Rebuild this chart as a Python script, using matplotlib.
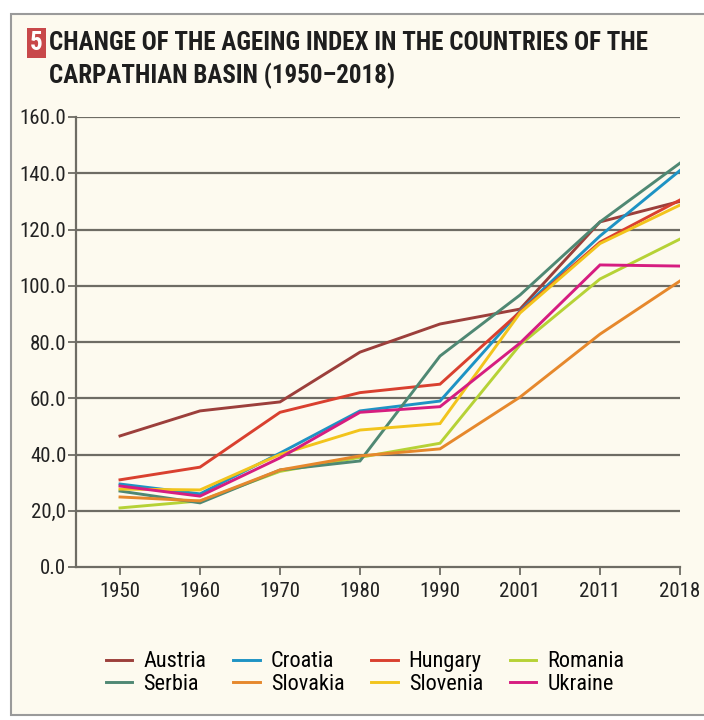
import matplotlib.pyplot as plt
from matplotlib import font_manager
from matplotlib.patches import Rectangle

years = ["1950", "1960", "1970", "1980", "1990", "2001", "2011", "2018"]

austria = [46.6, 55.5, 58.7, 76.4, 86.4, 91.7, 122.7, 130.0]
croatia = [29.5, 26.0, 40.5, 55.5, 59.0, 91.0, 117.7, 141.0]
hungary = [31.0, 35.5, 55.0, 62.0, 65.0, 90.7, 115.5, 130.5]
romania = [21.0, 23.5, 34.0, 39.0, 44.0, 79.0, 102.4, 116.6]
serbia = [27.0, 22.8, 34.5, 37.7, 75.0, 96.7, 122.7, 143.6]
slovakia = [24.9, 23.5, 34.5, 39.5, 42.0, 60.4, 82.8, 101.7]
slovenia = [27.7, 27.4, 40.0, 48.7, 51.0, 90.3, 115.0, 128.7]
ukraine = [28.8, 25.2, 38.8, 55.0, 57.0, 79.6, 107.4, 107.0]

yticks = [0, 20, 40, 60, 80, 100, 120, 140, 160]
ytick_labels = ["0.0", "20,0", "40.0", "60.0", "80.0", "100.0", "120.0", "140.0", "160.0"]

series = [
    ("Austria", austria, "#9c3f3b"),
    ("Croatia", croatia, "#1e93c4"),
    ("Hungary", hungary, "#d9402f"),
    ("Romania", romania, "#b6d236"),
    ("Serbia", serbia, "#4f8873"),
    ("Slovakia", slovakia, "#e6882c"),
    ("Slovenia", slovenia, "#f2c41c"),
    ("Ukraine", ukraine, "#d61d80"),
]

# prefer a condensed face if one is around, else plain Liberation Sans a bit smaller
installed = {f.name for f in font_manager.fontManager.ttflist}
narrow = [n for n in ["Liberation Sans Narrow", "Roboto Condensed", "Open Sans Condensed",
                      "DejaVu Sans Condensed"] if n in installed]
if narrow:
    plt.rcParams["font.family"] = [narrow[0], "DejaVu Sans"]
    title_fs, tick_fs, leg_fs = 18, 15, 16
else:
    plt.rcParams["font.family"] = ["Liberation Sans", "DejaVu Sans"]
    title_fs, tick_fs, leg_fs = 14.5, 12.5, 13.5

bg = "#fdfaef"
grid_col = "#6e6c64"

fig = plt.figure(figsize=(7.04, 7.20), dpi=100, facecolor="white")
fig.patches.append(Rectangle((11 / 704, 1 - 715 / 720), 1.0, (715 - 14) / 720,
                             transform=fig.transFigure, facecolor=bg,
                             edgecolor="#9a9a9a", linewidth=1.5, zorder=-10))

ax = fig.add_axes([76 / 704, 1 - 567 / 720, (680 - 76) / 704, (567 - 117) / 720])
ax.set_facecolor(bg)

x = list(range(len(years)))
lines = {}
for name, vals, col in series:
    lines[name], = ax.plot(x, vals, color=col, linewidth=2.1, label=name,
                           solid_joinstyle="miter", zorder=3)

ax.set_xlim(-0.55, 7)
ax.set_ylim(0, 160)
ax.set_yticks(yticks)
ax.set_yticklabels(ytick_labels)
ax.set_xticks(x)
ax.set_xticklabels(years)
ax.tick_params(axis="both", labelsize=tick_fs, colors=grid_col, labelcolor="#222222",
               length=6, width=1.3)
ax.tick_params(axis="x", pad=5)
ax.tick_params(axis="y", pad=1)

for v in yticks[1:]:
    ax.axhline(v, color=grid_col, linewidth=1.6, zorder=1)
for s in ["top", "right"]:
    ax.spines[s].set_visible(False)
for s in ["left", "bottom"]:
    ax.spines[s].set_color(grid_col)
    ax.spines[s].set_linewidth(1.6)

# title with the numbered badge
fig.text(30 / 704, 1 - 43 / 720, "5", color="white", fontsize=title_fs, fontweight="bold",
         va="center", ha="left",
         bbox=dict(boxstyle="square,pad=0.12", facecolor="#c8484a", edgecolor="none"))
fig.text(49 / 704, 1 - 43 / 720, "CHANGE OF THE AGEING INDEX IN THE COUNTRIES OF THE",
         fontsize=title_fs, fontweight="bold", color="#1e1e1e", va="center", ha="left")
fig.text(49 / 704, 1 - 76 / 720, "CARPATHIAN BASIN (1950–2018)",
         fontsize=title_fs, fontweight="bold", color="#1e1e1e", va="center", ha="left")

order = ["Austria", "Serbia", "Croatia", "Slovakia", "Hungary", "Slovenia", "Romania", "Ukraine"]
fig.legend([lines[n] for n in order], order, ncol=4, loc="center",
           bbox_to_anchor=(365 / 704, 1 - 673 / 720), frameon=False,
           fontsize=leg_fs, handlelength=1.2, handletextpad=0.5, columnspacing=1.2,
           labelspacing=0.05)

fig.savefig("out.png", dpi=100, facecolor="white")
